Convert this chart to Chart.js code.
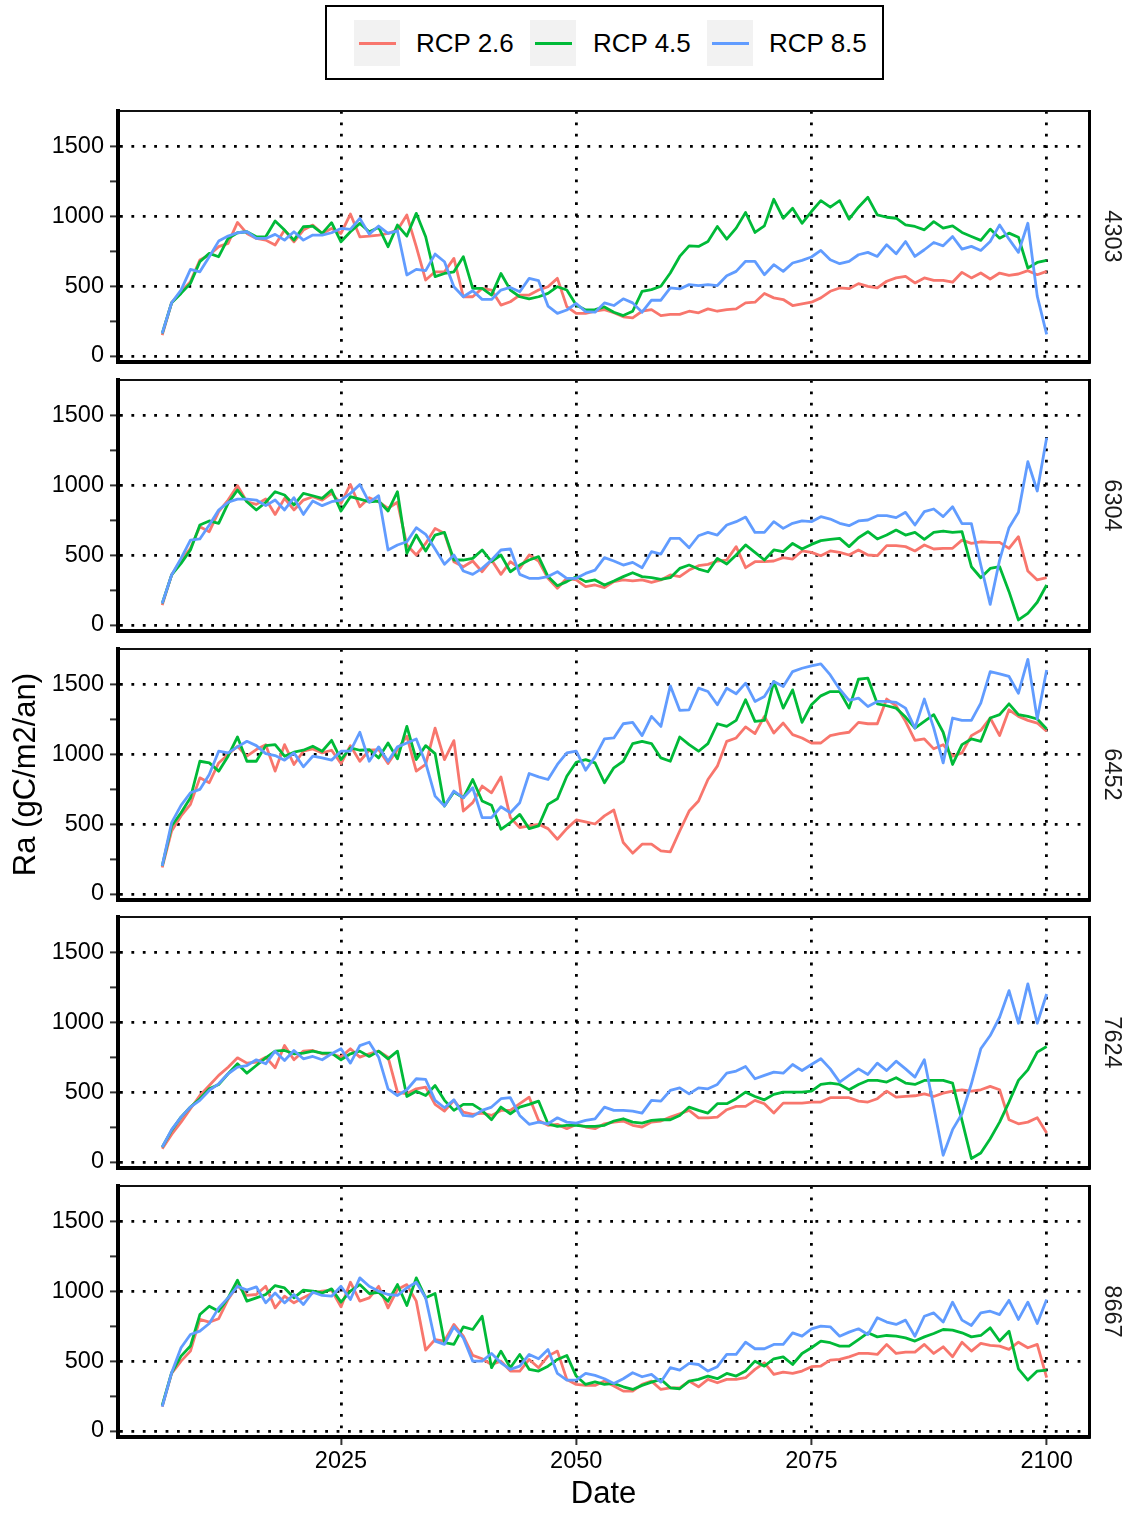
<!DOCTYPE html>
<html>
<head>
<meta charset="utf-8">
<title>Ra</title>
<script src="https://cdn.jsdelivr.net/npm/chart.js@4.4.1/dist/chart.umd.min.js"></script>
<style>
  body { margin: 0; background: #fff; }
  #page { position: relative; width: 1129px; height: 1513px; background: #fff; overflow: hidden;
          font-family: 'Liberation Sans', Arial, sans-serif; }
  #legend { position: absolute; left: 325px; top: 5px; width: 555px; height: 71px; border: 2px solid #000; }
  .key { position: absolute; top: 13px; width: 46px; height: 46px; background: #f2f2f2; }
  .key i { position: absolute; left: 5px; top: 21.5px; width: 37px; height: 3px; }
  .lbl { position: absolute; top: 13px; height: 46px; line-height: 46px; font-size: 26px; color: #000; white-space: nowrap; }
  canvas { position: absolute; left: 0; }
</style>
</head>
<body>
<div id="page">
  <div id="legend"></div>
</div>
<script>
// years of the yearly series
var years = [2006,2007,2008,2009,2010,2011,2012,2013,2014,2015,2016,2017,2018,2019,2020,
  2021,2022,2023,2024,2025,2026,2027,2028,2029,2030,2031,2032,2033,2034,2035,2036,2037,2038,2039,2040,
  2041,2042,2043,2044,2045,2046,2047,2048,2049,2050,2051,2052,2053,2054,2055,2056,2057,2058,2059,2060,
  2061,2062,2063,2064,2065,2066,2067,2068,2069,2070,2071,2072,2073,2074,2075,2076,2077,2078,2079,2080,
  2081,2082,2083,2084,2085,2086,2087,2088,2089,2090,2091,2092,2093,2094,2095,2096,2097,2098,2099,2100];

var sites = ['4303', '6304', '6452', '7624', '8667'];
var scenarios = ['RCP 2.6', 'RCP 4.5', 'RCP 8.5'];
var lineColours = ['#F8766D', '#00BA38', '#619CFF'];

// Ra (gC/m2/an) per site and scenario
var ra26_4303 = [150,382,461,533,688,724,784,808,958,879,843,831,796,903,819,903,939,879,915,879,1018,855,860,867,879,903,1011,784,545,604,604,700,425,425,485,473,365,389,437,437,473,497,557,354,306,306,
  321,333,310,281,274,321,333,290,298,298,321,310,338,321,333,338,381,386,448,417,405,362,374,386,417,464,488,483,519,500,488,536,560,571,524,560,543,543,529,600,560,595,552,595,579,588,612,583,607];
var ra45_4303 = [162,382,449,521,676,736,712,843,884,891,855,855,968,903,831,927,932,879,956,819,891,951,891,922,784,939,860,1023,855,569,592,604,712,485,485,437,592,473,425,409,425,449,497,473,365,330,
  333,352,314,290,321,464,476,500,595,714,790,786,821,929,838,917,1029,886,933,1124,988,1060,952,1036,1114,1067,1114,981,1067,1138,1012,995,988,940,929,905,964,917,933,886,857,829,910,845,881,852,631,671,686];
var ra85_4303 = [162,382,473,621,604,712,824,860,884,891,843,843,872,831,891,831,867,867,884,915,908,987,874,932,879,898,581,621,612,731,676,497,425,468,406,406,473,492,461,557,540,358,306,330,377,318,
  314,381,362,410,381,314,400,400,488,481,512,505,512,505,576,607,679,679,583,655,607,667,686,710,757,690,662,679,726,743,714,798,733,821,714,762,814,790,857,767,786,757,821,940,838,743,952,429,155];

var ra26_6304 = [143,359,466,550,705,669,813,896,999,884,865,903,793,908,825,896,920,896,944,872,1008,848,913,884,837,880,574,502,585,693,657,454,418,459,382,466,363,454,406,502,459,335,263,335,323,275,
  287,268,311,323,316,323,306,323,359,347,394,425,435,459,466,562,411,454,454,459,483,473,531,521,497,531,521,502,538,502,497,569,569,562,531,574,545,550,550,609,585,597,593,593,550,633,387,323,339];
var ra45_6304 = [155,359,442,538,717,746,729,872,968,884,825,880,956,932,860,944,927,908,968,817,920,903,884,889,817,956,514,645,531,645,664,466,466,478,538,454,502,382,430,466,490,347,282,311,347,311,
  323,287,316,347,375,347,339,327,339,406,430,401,382,478,437,502,574,521,466,538,526,585,545,578,605,614,621,562,626,669,617,645,681,645,664,614,664,674,664,669,418,339,406,418,239,36,84,163,287];
var ra85_6304 = [155,359,478,609,617,717,825,880,903,903,896,856,896,825,913,793,889,856,884,896,944,1008,880,927,538,574,597,698,650,545,435,502,387,363,406,466,538,545,363,335,335,347,382,335,335,370,
  394,483,459,430,449,411,526,509,621,621,554,640,664,645,717,741,774,664,664,741,693,729,746,741,777,760,729,712,746,753,784,784,770,808,717,813,832,777,848,727,727,430,148,466,698,808,1171,961,1343];

var ra26_6452 = [190,452,560,643,833,798,940,1000,1060,988,1036,1071,881,1071,929,1024,1040,1012,1031,936,1064,952,1031,1036,936,1036,1131,881,929,1190,964,1100,595,655,774,726,840,548,476,488,500,469,393,469,531,517,
  502,560,602,369,293,357,357,310,302,452,595,667,821,917,1095,1119,1198,1150,1274,1155,1226,1143,1119,1083,1083,1136,1150,1160,1231,1221,1221,1398,1350,1238,1102,1112,1041,1071,988,1012,1136,1174,1262,1136,1321,1274,1245,1226,1167];
var ra45_6452 = [202,488,583,690,952,940,881,988,1126,952,952,1064,1071,988,1017,1031,1060,1024,1102,964,1048,1031,1036,976,1083,969,1202,964,1064,1007,631,731,690,821,667,636,464,512,571,469,488,643,683,845,945,964,
  940,798,905,952,1079,1095,1079,976,952,1126,1071,1024,1079,1221,1202,1245,1393,1238,1245,1524,1333,1464,1231,1357,1421,1452,1452,1333,1540,1548,1364,1350,1333,1269,1190,1238,1286,1160,929,1071,1112,1095,1262,1286,1364,1286,1274,1255,1183];
var ra85_6452 = [202,512,636,726,750,857,1024,1012,1055,1095,1064,1007,993,960,1012,912,988,976,960,1024,1024,1160,952,1055,952,1055,1083,1112,940,702,631,738,690,762,548,548,626,583,655,864,840,821,929,1012,1024,888,
  983,1112,1119,1221,1231,1136,1274,1202,1493,1317,1321,1476,1452,1357,1476,1436,1512,1381,1417,1524,1488,1595,1619,1636,1650,1571,1469,1388,1405,1345,1381,1381,1374,1333,1190,1398,1190,940,1262,1245,1245,1369,1595,1579,1560,1440,1683,1255,1607];

var ra26_7624 = [95,198,286,382,477,549,621,680,747,709,716,752,676,835,733,795,800,776,776,752,812,752,776,795,752,501,489,525,537,413,365,442,358,341,351,334,370,370,418,465,298,263,270,239,270,251,
  239,274,286,294,263,251,286,294,322,346,370,317,317,322,375,399,399,442,418,351,422,422,422,430,430,461,461,461,437,430,454,508,465,470,475,489,470,494,508,518,508,518,542,518,303,274,286,317,208];
var ra45_7624 = [107,227,322,394,454,525,556,633,704,637,692,747,795,800,776,781,795,781,781,733,776,795,757,795,740,795,470,508,477,549,442,370,413,413,370,303,394,346,394,413,437,274,255,263,263,255,
  255,263,294,310,286,279,298,303,303,334,394,370,351,418,418,454,501,470,446,485,501,501,501,508,556,566,556,518,556,585,585,573,604,566,556,585,585,585,566,298,25,64,167,286,430,585,661,788,828];
var ra85_7624 = [107,232,322,394,442,513,561,633,680,692,733,704,795,728,800,740,757,733,776,812,709,835,859,752,525,477,518,597,592,442,389,446,334,327,370,394,454,461,334,270,286,274,317,286,279,298,
  310,394,370,370,365,351,442,437,513,532,489,532,525,556,637,652,685,597,621,645,637,699,656,699,740,668,573,621,668,628,709,656,723,668,609,733,394,48,232,346,561,812,907,1038,1229,995,1277,995,1205];

var ra26_8667 = [174,413,501,573,800,781,805,943,1043,972,979,1038,883,967,919,955,990,1003,1010,890,1067,931,955,1038,883,1014,1050,931,580,656,645,764,680,542,518,477,501,430,430,513,454,537,573,370,334,327,
  327,358,322,286,286,334,358,298,310,310,358,317,370,346,370,370,382,442,489,406,422,413,430,461,466,508,513,532,556,556,549,621,556,566,566,621,556,604,532,637,573,628,614,609,585,637,597,621,382];
var ra45_8667 = [184,418,537,609,835,895,859,955,1081,931,955,979,1043,1026,955,1010,1003,990,1019,924,1003,1050,986,995,931,1050,900,1098,955,986,633,621,747,728,823,454,573,454,549,442,430,465,513,542,394,334,
  353,334,341,317,298,327,351,370,310,303,358,370,394,375,413,394,430,501,465,518,532,477,556,597,645,633,609,609,656,704,675,685,680,668,645,675,699,728,723,704,675,685,740,645,716,446,365,430,437];
var ra85_8667 = [174,418,597,692,716,771,883,955,1038,1010,1034,919,990,919,979,907,995,972,967,1038,943,1098,1038,1003,979,972,1026,1067,955,645,621,747,668,501,501,556,489,442,465,549,518,585,413,365,365,413,
  399,375,341,375,418,389,406,351,454,437,485,477,430,461,549,549,637,590,590,621,621,704,680,733,752,747,680,709,733,692,812,781,764,795,680,823,847,781,924,795,757,847,859,835,937,800,924,771,943];

var seriesBySite = {
  '4303': [ra26_4303, ra45_4303, ra85_4303],
  '6304': [ra26_6304, ra45_6304, ra85_6304],
  '6452': [ra26_6452, ra45_6452, ra85_6452],
  '7624': [ra26_7624, ra45_7624, ra85_7624],
  '8667': [ra26_8667, ra45_8667, ra85_8667]
};

// axis ticks
var xTicks = [2025, 2050, 2075, 2100];
var yTicks = [0, 250, 500, 750, 1000, 1250, 1500];

var FONT = "'Liberation Sans', Arial, sans-serif";
var X_MIN = 2001.3, X_MAX = 2104.5;
var Y_MIN = -43, Y_MAX = 1757;
var panelTops = [111, 380, 649, 917, 1186];
var PANEL_H = 251;
var PAGE_H = 1513;
var DOTS = [2.8, 8.6];

// legend
var legend = document.getElementById('legend');
var keyLeft = [27, 203, 380];
var lblLeft = [89, 266, 442];
scenarios.forEach(function (name, k) {
  var key = document.createElement('div');
  key.className = 'key';
  key.style.left = keyLeft[k] + 'px';
  var stroke = document.createElement('i');
  stroke.style.background = lineColours[k];
  key.appendChild(stroke);
  legend.appendChild(key);
  var lbl = document.createElement('div');
  lbl.className = 'lbl';
  lbl.style.left = lblLeft[k] + 'px';
  lbl.textContent = name;
  legend.appendChild(lbl);
});

function isMajor(v) { return v % 500 === 0; }

function makePanel(idx) {
  var site = sites[idx];
  var last = idx === sites.length - 1;
  var top = panelTops[idx] - 4;
  var bottomH = last ? PAGE_H - top - 4 - PANEL_H : 4;

  var canvas = document.createElement('canvas');
  canvas.width = 1129;
  canvas.height = 4 + PANEL_H + bottomH;
  canvas.style.top = top + 'px';
  document.getElementById('page').appendChild(canvas);

  var datasets = scenarios.map(function (name, k) {
    return {
      label: name,
      data: seriesBySite[site][k],
      borderColor: lineColours[k],
      backgroundColor: lineColours[k],
      borderWidth: 2.8,
      borderJoinStyle: 'round',
      pointRadius: 0,
      pointHoverRadius: 0,
      tension: 0,
      fill: false,
      order: 3 - k
    };
  });

  return new Chart(canvas.getContext('2d'), {
    type: 'line',
    data: { labels: years, datasets: datasets },
    options: {
      responsive: false,
      animation: false,
      devicePixelRatio: 1,
      events: [],
      layout: { padding: 0 },
      plugins: { legend: { display: false }, tooltip: { enabled: false } },
      scales: {
        x: {
          type: 'linear', position: 'bottom', min: X_MIN, max: X_MAX,
          afterBuildTicks: function (s) { s.ticks = xTicks.map(function (v) { return { value: v }; }); },
          afterFit: function (s) { s.height = bottomH; s.paddingLeft = 0; s.paddingRight = 0; },
          ticks: { display: last, autoSkip: false, maxRotation: 0, padding: 2, color: '#000',
                   font: { family: FONT, size: 23.5 }, callback: function (v) { return String(v); } },
          grid: { color: '#000', lineWidth: 2.8, drawTicks: last, tickLength: 8, tickColor: '#333', tickWidth: 2 },
          border: { display: true, color: '#000', width: 4, dash: DOTS },
          title: { display: last, text: 'Date', color: '#000', font: { family: FONT, size: 31 },
                   padding: { top: 0, bottom: 0 } }
        },
        x2: {
          type: 'linear', position: 'top', min: X_MIN, max: X_MAX,
          ticks: { display: false },
          grid: { drawOnChartArea: false, drawTicks: false },
          border: { display: true, color: '#111', width: 2 },
          afterFit: function (s) { s.height = 4; s.paddingLeft = 0; s.paddingRight = 0; }
        },
        y: {
          type: 'linear', position: 'left', min: Y_MIN, max: Y_MAX,
          afterBuildTicks: function (s) { s.ticks = yTicks.map(function (v) { return { value: v }; }); },
          afterFit: function (s) { s.width = 118; s.paddingTop = 0; s.paddingBottom = 0; },
          ticks: { autoSkip: false, padding: 6, color: '#000', font: { family: FONT, size: 23.5 },
                   callback: function (v) { return isMajor(v) ? String(v) : ''; } },
          grid: {
            color: function (c) { return c.tick && isMajor(c.tick.value) ? '#000' : 'rgba(0,0,0,0)'; },
            lineWidth: 2.8, tickLength: 8, tickColor: '#333', tickWidth: 2
          },
          border: { display: true, color: '#000', width: 4, dash: DOTS },
          title: { display: idx === 2, text: 'Ra (gC/m2/an)', color: '#000',
                   font: { family: FONT, size: 31 }, padding: { top: 8, bottom: 0 } }
        },
        y2: {
          type: 'linear', position: 'right', min: Y_MIN, max: Y_MAX,
          ticks: { display: false },
          grid: { drawOnChartArea: false, drawTicks: false },
          border: { display: true, color: '#000', width: 3 },
          afterFit: function (s) { s.width = 40; s.paddingTop = 0; s.paddingBottom = 0; },
          title: { display: true, text: site, color: '#1a1a1a', font: { family: FONT, size: 23.5 },
                   padding: { top: 3, bottom: 0 } }
        }
      }
    }
  });
}

var charts = sites.map(function (s, i) { return makePanel(i); });
</script>
</body>
</html>
